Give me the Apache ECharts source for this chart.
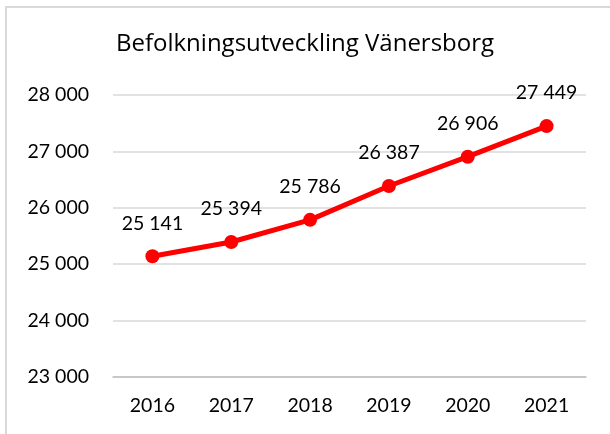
<!DOCTYPE html>
<html>
<head>
<meta charset="utf-8">
<script src="https://cdn.jsdelivr.net/npm/echarts@6/dist/echarts.min.js"></script>
<style>
  html, body { margin: 0; padding: 0; background: #fff; }
  #chart { width: 610px; height: 434px; }
</style>
</head>
<body>
<div id="chart"></div>
<script>
// data
const years = ["2016", "2017", "2018", "2019", "2020", "2021"];
const population = [25141, 25394, 25786, 26387, 26906, 27449];
const yMin = 23000;
const yMax = 28000;
const yStep = 1000;

// 25141 -> "25 141"
function spaced(v) {
  return String(v).replace(/\B(?=(\d{3})+(?!\d))/g, " ");
}

const chart = echarts.init(document.getElementById("chart"));
const font = "Lato, 'Open Sans', sans-serif";
const titleFont = "'Open Sans', Lato, sans-serif";

chart.setOption({
  animation: false,
  textStyle: { fontFamily: font },
  graphic: [
    {
      type: "rect",
      shape: { x: 6, y: 7, width: 640, height: 460 },
      style: { fill: "none", stroke: "#d9d9d9", lineWidth: 2 },
      silent: true
    }
  ],
  title: {
    text: "Befolkningsutveckling Vänersborg",
    left: "center",
    top: 27,
    textStyle: { fontFamily: titleFont, fontSize: 24, fontWeight: "normal", color: "#000" }
  },
  grid: { left: 113, right: 24, top: 95, bottom: 57 },
  xAxis: {
    type: "category",
    data: years,
    boundaryGap: true,
    axisLine: { lineStyle: { color: "#bfbfbf", width: 1.5 } },
    axisTick: { show: false },
    axisLabel: { color: "#000", fontSize: 19.5, margin: 19, fontFamily: font }
  },
  yAxis: {
    type: "value",
    min: yMin,
    max: yMax,
    interval: yStep,
    axisLine: { show: false },
    axisTick: { show: false },
    splitLine: { lineStyle: { color: "#d9d9d9", width: 1.5 } },
    axisLabel: {
      color: "#000",
      fontSize: 19.5,
      margin: 24,
      fontFamily: font,
      formatter: spaced
    }
  },
  series: [
    {
      type: "line",
      data: population,
      symbol: "circle",
      symbolSize: 14,
      lineStyle: { color: "#ff0000", width: 5 },
      itemStyle: { color: "#ff0000" },
      label: {
        show: true,
        position: "top",
        distance: 16,
        color: "#000",
        fontSize: 19.5,
        fontFamily: font,
        formatter: p => spaced(p.value)
      }
    }
  ]
});
</script>
</body>
</html>
